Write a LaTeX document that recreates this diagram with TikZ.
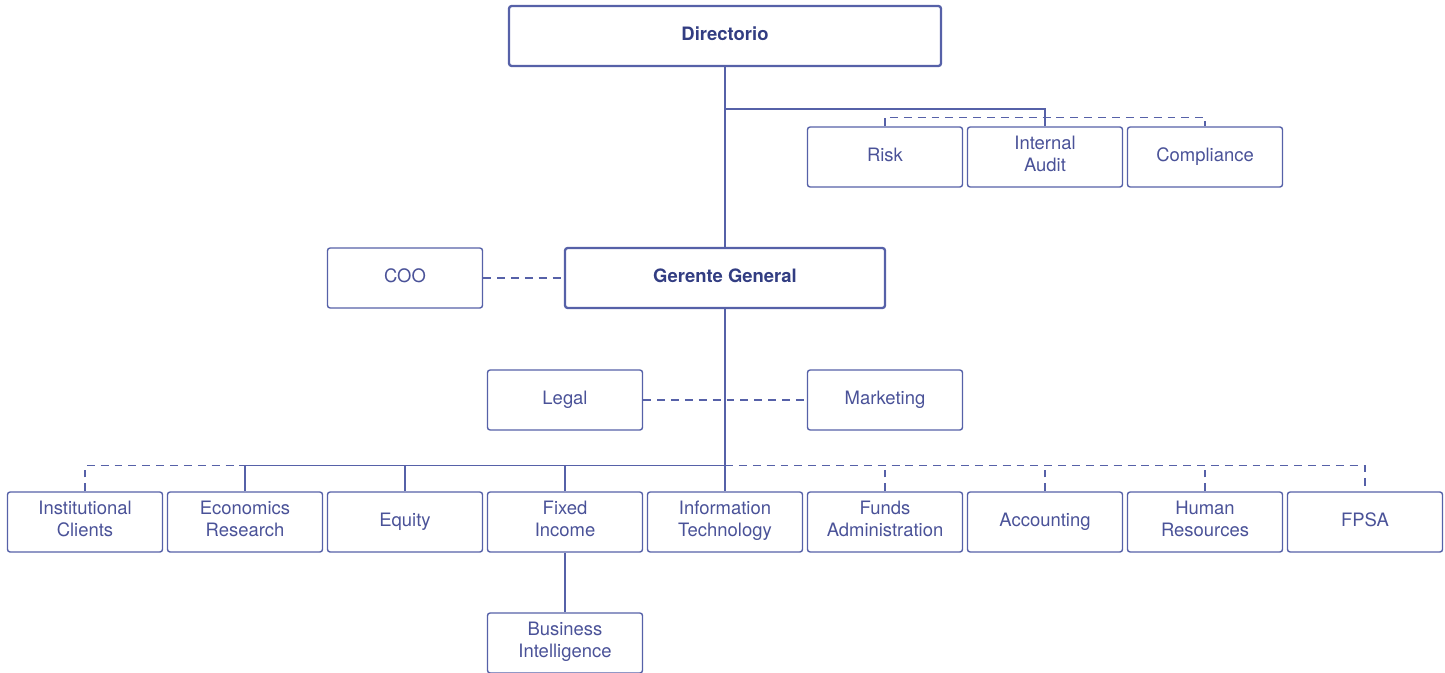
\documentclass[tikz,border=0pt]{standalone}
\usepackage{fontspec}
\setmainfont{TeX Gyre Heros}
\usetikzlibrary{positioning}

\definecolor{inkline}{HTML}{5661A8}
\definecolor{inktext}{HTML}{4A5298}
\definecolor{inkdark}{HTML}{323D82}

\begin{document}
\begin{tikzpicture}[node distance = 3.2cm, on grid,
    unit/.style = {draw = inkline, line width = 0.8pt, rounded corners = 1.5pt,
      minimum width = 3.1cm, minimum height = 1.2cm, inner sep = 0pt,
      align = center, text = inktext, font = \fontsize{10.5}{12.5}\selectfont,
      execute at begin node = \strut, execute at end node = \strut},
    head/.style = {unit, line width = 1.3pt, text = inkdark,
      font = \fontsize{10.5}{12.5}\selectfont\bfseries},
    link/.style = {draw = inkline, line width = 0.8pt},
    dashlink/.style = {link, dash pattern = on 4.5pt off 3.4pt}]
  \useasboundingbox (0,0) rectangle (28.9,13.44);

  % top of the chart
  \node[head, minimum width = 6.4cm] (gg) at (14.5,7.88) {Gerente General};
  \node[head, minimum width = 8.64cm] [above=4.84cm of gg] (dir) {Directorio};
  \node[unit] [left=6.4cm of gg] (coo) {COO};

  % bottom row
  \node[unit] [below=4.88cm of gg] (it) {Information\\Technology};
  \node[unit] [left=of it] (fi) {Fixed\\Income};
  \node[unit] [left=of fi] (eq) {Equity};
  \node[unit] [left=of eq] (er) {Economics\\Research};
  \node[unit] [left=of er] (ic) {Institutional\\Clients};
  \node[unit] [right=of it] (fa) {Funds\\Administration};
  \node[unit] [right=of fa] (acc) {Accounting};
  \node[unit] [right=of acc] (hr) {Human\\Resources};
  \node[unit] [right=of hr] (fpsa) {FPSA};
  \node[unit] [below=2.42cm of fi] (bi) {Business\\Intelligence};

  % staff units
  \node[unit] [above=2.44cm of fi] (legal) {Legal};
  \node[unit] [right=6.4cm of legal] (mkt) {Marketing};
  \node[unit] [above=7.3cm of fa] (risk) {Risk};
  \node[unit] [right=of risk] (ia) {Internal\\Audit};
  \node[unit] [right=of ia] (comp) {Compliance};

  \coordinate [below=0.84cm of dir.south] (dirtap);
  \coordinate [above=0.18cm of ia.north] (ctrl);
  \coordinate [above=0.52cm of it.north] (bus);

  % connectors
  \path[link]
    (dir) edge (gg)
    (gg) edge (it)
    (fi) edge (bi);
  \draw[link] (dirtap) -| (ctrl);
  \draw[dashlink] (risk.north) |- (ctrl) -| (comp.north);
  \draw[dashlink] (ia.north) -- (ctrl);
  \draw[dashlink] (coo) -- (gg);
  \draw[dashlink] (legal) -- (mkt);
  \draw[link] (er.north) |- (bus);
  \foreach \n in {eq, fi}
    \draw[link] (\n.north) -- (\n.north |- bus);
  \draw[dashlink] (ic.north) |- (er.north |- bus);
  \draw[dashlink] (bus) -| (fpsa.north);
  \foreach \n in {fa, acc, hr}
    \draw[dashlink] (\n.north) -- (\n.north |- bus);
\end{tikzpicture}
\end{document}
